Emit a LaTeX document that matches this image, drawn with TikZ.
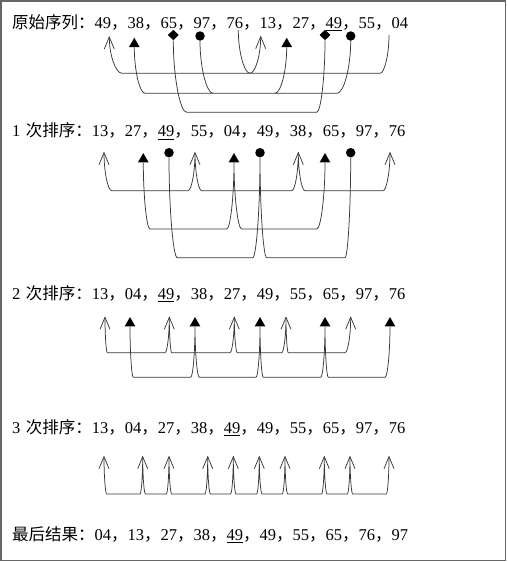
\documentclass[tikz,border=0pt]{standalone}
\usepackage{fontspec}
\setmainfont{Liberation Serif}
\newfontfamily\cjk{Noto Sans CJK SC}
\usetikzlibrary{calc,shapes.geometric}
\newcommand\pivot[1]{\rlap{\rule[-3pt]{16.5pt}{0.9pt}}#1}
\newcommand\cm{{\cjk ，}}
\newcommand\ohead[1]{\draw[conn] ([shift={(-5,12)}]#1) -- (#1) -- ([shift={(5,12)}]#1);}
\tikzset{
  conn/.style={draw=black!78, line width=0.75pt},
  rowtext/.style={anchor=base west, inner sep=0pt, font=\fontsize{16.5pt}{18pt}\selectfont},
  tri/.style={regular polygon, regular polygon sides=3, minimum size=12.5pt, inner sep=0pt, fill=black},
  dot/.style={circle, minimum size=9.5pt, inner sep=0pt, fill=black},
  dia/.style={diamond, minimum width=11pt, minimum height=10.5pt, inner sep=0pt, fill=black},
  vh/.style={to path={.. controls ($(\tikztostart)!0.5!(\tikztostart|-\tikztotarget)$) and ($(\tikztostart|-\tikztotarget)!0.5!(\tikztotarget)$) .. (\tikztotarget)}},
  hv/.style={to path={.. controls ($(\tikztostart)!0.5!(\tikztotarget|-\tikztostart)$) and ($(\tikztotarget|-\tikztostart)!0.5!(\tikztotarget)$) .. (\tikztotarget)}},
}
\begin{document}
\begin{tikzpicture}[x=1pt,y=-1pt]
\useasboundingbox (0,0) rectangle (507,562);
\draw[draw=black!60, line width=1.2pt] (1,1) rectangle (505.5,560.5);

% ---------- text rows ----------
\node[rowtext] (row0) at (12,28.3) {{\cjk 原始序列：}49\cm 38\cm 65\cm 97\cm 76\cm 13\cm 27\cm \pivot{49}\cm 55\cm 04};
\node[rowtext] (row1) at (12,136.7) {1\hspace{5.5pt}{\cjk 次排序：}13\cm 27\cm \pivot{49}\cm 55\cm 04\cm 49\cm 38\cm 65\cm 97\cm 76};
\node[rowtext] (row2) at (12,299) {2\hspace{5.5pt}{\cjk 次排序：}13\cm 04\cm \pivot{49}\cm 38\cm 27\cm 49\cm 55\cm 65\cm 97\cm 76};
\node[rowtext] (row3) at (12,433) {3\hspace{5.5pt}{\cjk 次排序：}13\cm 04\cm 27\cm 38\cm \pivot{49}\cm 49\cm 55\cm 65\cm 97\cm 76};
\node[rowtext] (row4) at (12,540) {{\cjk 最后结果：}04\cm 13\cm 27\cm 38\cm \pivot{49}\cm 49\cm 55\cm 65\cm 76\cm 97};

% ---------- row 0 ----------
\coordinate (r0a1) at (109.3,37);
\coordinate (r0a5) at (238.3,30);
\coordinate (r0a6) at (260.7,36.7);
\coordinate (r0a10) at (389,35);
\node[tri] (r0t1) at (134.3,44) {};
\node[tri] (r0t2) at (286.7,44) {};
\node[dot] (r0c1) at (200,36) {};
\node[dot] (r0c2) at (350.7,36) {};
\node[dia] (r0d1) at (173.3,35) {};
\node[dia] (r0d2) at (325,35) {};
\draw[conn] (r0a1) to[vh] (122,73.3) -- (380,73.3) to[hv] (r0a10);
\draw[conn] (r0a5) to[vh] (250,73.3) to[hv] (r0a6);
\draw[conn] (r0t1.south) to[vh] (145,93.3) -- (337,93.3) to[hv] (r0c2.south);
\draw[conn] (r0c1.south) to[vh] (213,93.3);
\draw[conn] (275,93.3) to[hv] (r0t2.south);
\draw[conn] (r0d1.south) to[vh] (186.7,112.3) -- (316.7,112.3) to[hv] (r0d2.south);
\ohead{r0a1}
\ohead{r0a6}

% ---------- row 1 ----------
\coordinate (r1a1) at (104,152.7);
\coordinate (r1a2) at (195,152.7);
\coordinate (r1a3) at (298.3,152.7);
\coordinate (r1a4) at (390,152.7);
\node[tri] (r1t1) at (143.3,159.3) {};
\node[tri] (r1t2) at (234,159.3) {};
\node[tri] (r1t3) at (325,159.3) {};
\node[dot] (r1c1) at (169,152.7) {};
\node[dot] (r1c2) at (260,152.7) {};
\node[dot] (r1c3) at (350.7,152.7) {};
\draw[conn] (r1a1) to[vh] (111.7,190.7) -- (188,190.7) to[hv] (r1a2) to[vh] (201.7,190.7) -- (291.7,190.7) to[hv] (r1a3) to[vh] (305,190.7) -- (383,190.7) to[hv] (r1a4);
\draw[conn] (r1t1.south) to[vh] (150,229) -- (226.7,229) to[hv] (r1t2.south) to[vh] (241.7,229) -- (316.7,229) to[hv] (r1t3.south);
\draw[conn] (r1c1.south) to[vh] (177.3,257.7) -- (252.7,257.7) to[hv] (r1c2.south) to[vh] (266.7,257.7) -- (345,257.7) to[hv] (r1c3.south);
\foreach \i in {1,...,4} {\ohead{r1a\i}}

% ---------- row 2 ----------
\coordinate (r2a1) at (105,317.3);
\coordinate (r2a2) at (169.3,317.3);
\coordinate (r2a3) at (234.3,317.3);
\coordinate (r2a4) at (286,317.3);
\coordinate (r2a5) at (350.7,317.3);
\node[tri] (r2t1) at (130,323.3) {};
\node[tri] (r2t2) at (195,323.3) {};
\node[tri] (r2t3) at (260,323.3) {};
\node[tri] (r2t4) at (325,323.3) {};
\node[tri] (r2t5) at (390,323.3) {};
\draw[conn] (r2a1) to[vh] (107.3,352.7) -- (165,352.7) to[hv] (r2a2) to[vh] (171.7,352.7) -- (230,352.7) to[hv] (r2a3) to[vh] (237.3,352.7) -- (281.7,352.7) to[hv] (r2a4) to[vh] (288.3,352.7) -- (345,352.7) to[hv] (r2a5);
\draw[conn] (r2t1.south) to[vh] (133.3,377.3) -- (190.7,377.3) to[hv] (r2t2.south) to[vh] (199.3,377.3) -- (256,377.3) to[hv] (r2t3.south) to[vh] (263.3,377.3) -- (320.7,377.3) to[hv] (r2t4.south) to[vh] (328.3,377.3) -- (385,377.3) to[hv] (r2t5.south);
\foreach \i in {1,...,5} {\ohead{r2a\i}}

% ---------- row 3 ----------
\coordinate (r3a1) at (104,456.7);
\coordinate (r3a2) at (142.7,456.7);
\coordinate (r3a3) at (169,456.7);
\coordinate (r3a4) at (207.7,456.7);
\coordinate (r3a5) at (233.3,456.7);
\coordinate (r3a6) at (259.3,456.7);
\coordinate (r3a7) at (285,456.7);
\coordinate (r3a8) at (324.3,456.7);
\coordinate (r3a9) at (350,456.7);
\coordinate (r3a10) at (389,456.7);
\draw[conn] (r3a1) to[vh] (106.7,494) -- (140,494) to[hv] (r3a2) to[vh] (145.4,494) -- (166.3,494) to[hv] (r3a3) to[vh] (171.7,494) -- (205,494) to[hv] (r3a4) to[vh] (210.4,494) -- (230.6,494) to[hv] (r3a5) to[vh] (236,494) -- (256.6,494) to[hv] (r3a6) to[vh] (262,494) -- (282.3,494) to[hv] (r3a7) to[vh] (287.7,494) -- (321.6,494) to[hv] (r3a8) to[vh] (327,494) -- (347.3,494) to[hv] (r3a9) to[vh] (352.7,494) -- (386.3,494) to[hv] (r3a10);
\foreach \i in {1,...,10} {\ohead{r3a\i}}
\end{tikzpicture}
\end{document}
